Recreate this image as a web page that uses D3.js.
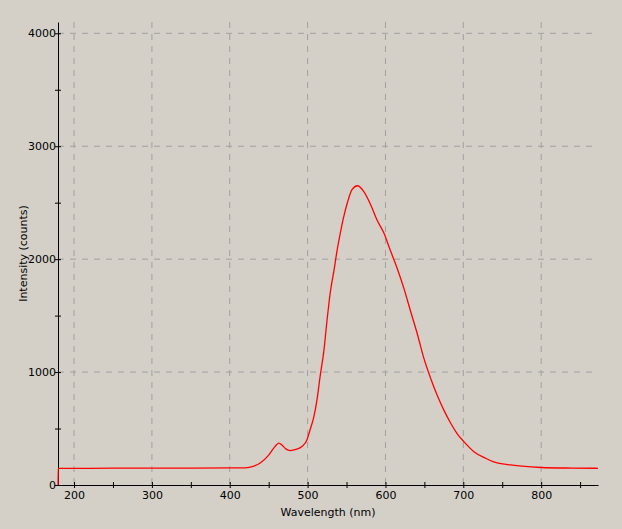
<!DOCTYPE html>
<html><head><meta charset="utf-8">
<script src="https://cdn.jsdelivr.net/npm/d3@7"></script>
<style>
body{margin:0;background:#d4d0c8;}
text{font-family:"DejaVu Sans",sans-serif;font-size:11px;fill:#000;}
</style></head><body>
<div id="chart"></div>
<script>
// spectrum
var wavelengths = [179.5,179.6,200,250,300,350,400,420,430,440,450,458,463,467,472,478,485,493,499,503,508,512,516,521,525,529,534,538,542,546,551,557,564,572,581,589,598,606,615,624,632,641,649,658,667,675,684,692,701,714,727,739,757,772,800,840,873];
var counts = [0,148,147,149,150,150,151,152,165,200,265,340,370,355,320,305,315,343,397,485,603,752,958,1195,1461,1698,1905,2083,2231,2364,2497,2615,2650,2600,2482,2349,2231,2083,1920,1735,1545,1335,1130,945,785,663,545,456,382,293,243,204,181,169,155,150,148];
var xTicks = [200,300,400,500,600,700,800];
var yTicks = [0,1000,2000,3000,4000];

var width = 622, height = 529;
var margin = {top: 22, right: 24, bottom: 44, left: 58};

var svg = d3.select("#chart").append("svg")
  .attr("width", width).attr("height", height);

var xScale = d3.scaleLinear().domain([179.4, 873]).range([margin.left, width - margin.right]);
var yScale = d3.scaleLinear().domain([0, 4100]).range([height - margin.bottom, margin.top]);

// grid lines
svg.append("g").selectAll("line").data(xTicks).enter().append("line")
  .attr("x1", function(d) { return xScale(d); }).attr("x2", function(d) { return xScale(d); })
  .attr("y1", margin.top).attr("y2", height - margin.bottom)
  .attr("stroke", "#a0a0a0").attr("stroke-dasharray", "6,6");
svg.append("g").selectAll("line").data(yTicks.slice(1)).enter().append("line")
  .attr("x1", margin.left).attr("x2", width - margin.right)
  .attr("y1", function(d) { return yScale(d); }).attr("y2", function(d) { return yScale(d); })
  .attr("stroke", "#a0a0a0").attr("stroke-dasharray", "6,6");

// axes
var xAxis = d3.axisBottom(xScale).tickValues(d3.range(200, 873, 50))
  .tickFormat(function(d) { return d % 100 == 0 ? d : ""; }).tickSizeInner(3).tickSizeOuter(0);
var gx = svg.append("g").attr("transform", "translate(0," + (height - margin.bottom) + ")").call(xAxis);
gx.selectAll(".tick line").attr("y1", -3);
var yAxis = d3.axisLeft(yScale).tickValues(d3.range(0, 4001, 500))
  .tickFormat(function(d) { return d % 1000 == 0 ? d : ""; }).tickSizeInner(3).tickSizeOuter(0);
var gy = svg.append("g").attr("transform", "translate(" + margin.left + ",0)").call(yAxis);
gy.selectAll(".tick line").attr("x1", 3);
svg.selectAll(".domain").attr("stroke", "#000");
svg.selectAll(".tick line").attr("stroke", "#000");
svg.selectAll(".tick text").style("font-size", "11px").attr("fill", "#000");
gx.selectAll(".tick text").attr("y", 6);
gy.selectAll(".tick text").attr("x", -2);

// the spectrum
var line = d3.line()
  .x(function(d, i) { return xScale(wavelengths[i]); })
  .y(function(d) { return yScale(d); })
  .curve(d3.curveMonotoneX);
svg.append("path").datum(counts)
  .attr("d", line).attr("fill", "none").attr("stroke", "#ff0000").attr("stroke-width", 1.3);

// labels
svg.append("text").attr("text-anchor", "middle")
  .attr("x", (margin.left + width - margin.right) / 2).attr("y", height - 13)
  .text("Wavelength (nm)");
svg.append("text").attr("text-anchor", "middle")
  .attr("transform", "translate(27," + ((margin.top + height - margin.bottom) / 2) + ") rotate(-90)")
  .text("Intensity (counts)");
</script></body></html>
